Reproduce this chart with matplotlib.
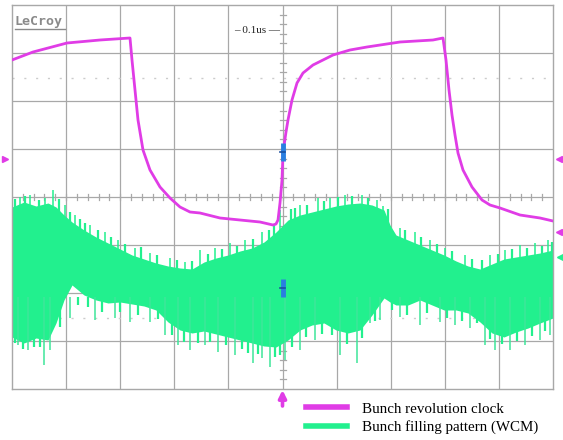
import numpy as np
import matplotlib
matplotlib.use("Agg")
import matplotlib.pyplot as plt
from matplotlib.lines import Line2D

# screen units: x = sample (0..541, 10 div), y = ADC counts (-192..192, 8 div)
clock_x = [0, 21, 55, 88, 118, 120, 123, 126, 131, 138, 148, 158, 168, 178, 188, 208, 228, 248,
           261, 264, 266, 268, 270, 271, 274, 276, 280, 285, 291, 301, 321, 338, 355, 388, 421,
           431, 434, 437, 440, 443, 446, 451, 460, 470, 478, 488, 508, 528, 541]
clock_y = [137, 145, 154, 157, 159, 137, 107, 77, 47, 27, 10, -1, -10, -15, -16, -21, -23, -25,
           -28, -27, -23, -6, 17, 44, 65, 77, 97, 114, 124, 132, 142, 147, 150, 155, 157,
           159, 137, 107, 82, 62, 44, 27, 10, -3, -8, -11, -18, -21, -24]

# bunch filling pattern (WCM): dense band, top/bottom edge
wcm_x = [0, 12, 24, 36, 44, 52, 60, 72, 84, 96, 108, 120, 132, 144, 156, 168, 180, 192, 204,
         216, 228, 240, 252, 264, 276, 288, 300, 312, 324, 336, 348, 360, 372, 378, 384, 396,
         408, 420, 432, 444, 456, 468, 480, 492, 504, 516, 528, 541]
wcm_top = [-10, -5, -9, -6, -10, -18, -25, -33, -40, -46, -52, -58, -62, -66, -69, -71, -72,
           -65, -61, -58, -54, -51, -45, -35, -23, -18, -15, -12, -9, -7, -6, -8, -13, -28,
           -38, -43, -48, -53, -58, -64, -69, -72, -67, -62, -60, -58, -56, -53]
wcm_bot = [-140, -146, -141, -143, -126, -103, -88, -98, -103, -106, -105, -107, -109, -113,
           -125, -133, -136, -134, -137, -140, -143, -146, -149, -150, -143, -133, -128, -126,
           -133, -136, -133, -118, -101, -105, -108, -108, -103, -108, -113, -113, -116, -125,
           -136, -140, -135, -131, -126, -121]

# long spikes sticking out of the band
spike_up_x = [8, 18, 33, 41, 53, 63, 78, 93, 106, 123, 138, 158, 173, 188, 203, 218, 233, 250,
              268, 288, 306, 318, 333, 350, 365, 371, 388, 403, 418, 433, 453, 478, 493, 508,
              523, 536]
spike_up_y = [0, 2, -1, 7, -8, -18, -28, -35, -43, -51, -56, -61, -65, -53, -51, -46, -43, -35,
              -13, -8, -1, -1, 2, 2, -3, -9, -31, -35, -43, -51, -58, -58, -53, -48, -46, -43]
spike_dn_x = [6, 16, 32, 38, 58, 83, 103, 118, 138, 153, 166, 178, 193, 206, 223, 241, 250, 258,
              273, 288, 303, 328, 345, 358, 368, 388, 408, 428, 443, 458, 473, 483, 498, 513,
              528, 538]
spike_dn_y = [-148, -153, -168, -153, -121, -123, -121, -125, -125, -138, -148, -153, -148, -155,
              -158, -166, -161, -170, -163, -153, -143, -158, -166, -126, -123, -120, -128, -125,
              -128, -131, -148, -153, -153, -148, -143, -138]

# shorter spikes along the band edges
short_up_x = [3, 13, 27, 47, 58, 68, 73, 86, 99, 113, 129, 145, 165, 180, 196, 210, 225, 241,
              257, 262, 279, 283, 295, 312, 326, 340, 356, 376, 393, 409, 425, 440, 460, 470,
              486, 500, 515, 530, 540]
short_up_y = [-2, 1, -3, -2, -15, -22, -26, -33, -40, -47, -50, -58, -63, -64, -57, -52, -49,
              -42, -33, -27, -12, -11, -8, -4, 0, 1, -1, -12, -33, -40, -47, -54, -62, -63,
              -57, -52, -51, -49, -45]
short_dn_x = [3, 11, 22, 28, 48, 66, 76, 90, 108, 126, 146, 160, 172, 186, 198, 214, 230, 236,
              246, 263, 268, 280, 294, 310, 320, 335, 350, 363, 380, 395, 415, 435, 450, 465,
              478, 490, 505, 520, 533]
short_dn_y = [-146, -152, -150, -150, -130, -108, -110, -115, -115, -118, -122, -138, -145,
              -146, -145, -148, -152, -156, -157, -160, -158, -150, -140, -137, -138, -147,
              -141, -124, -113, -118, -116, -121, -124, -126, -142, -147, -144, -139, -134]

labels = ["Bunch revolution clock", "Bunch filling pattern (WCM)"]

MAG = "#e03ce6"
GRN = "#22f08e"
GRID = "#a8a8a8"

fig = plt.figure(figsize=(5.63, 4.40), dpi=100)
ax = fig.add_axes([12/563, 51/440, 541/563, 384/440])
ax.set_xlim(0, 541)
ax.set_ylim(-192, 192)
ax.set_xticks([]); ax.set_yticks([])
for s in ax.spines.values():
    s.set_color(GRID); s.set_linewidth(1.0)

xdiv = 541/10
ydiv = 48
for i in range(1, 10):
    ax.axvline(i*xdiv, color=GRID, lw=0.9, zorder=1)
for j in range(-3, 4):
    ax.axhline(j*ydiv, color=GRID, lw=0.9, zorder=1)
# center ticks
cx = 5*xdiv
for k in range(1, 50):
    ax.plot([k*xdiv/5]*2, [-3, 3], color=GRID, lw=0.9, zorder=1)
for k in range(-19, 20):
    ax.plot([cx-3, cx+3], [k*ydiv/5]*2, color=GRID, lw=0.9, zorder=1)
# dotted cursor levels
for yy in (119, -121):
    ax.axhline(yy, color="#cccccc", lw=1.0, ls=(0, (1.5, 7)), zorder=1)

# traces
ax.fill_between(wcm_x, wcm_bot, wcm_top, color=GRN, lw=0, zorder=2)
ax.vlines(spike_up_x, -80, spike_up_y, color=GRN, lw=1.1, zorder=2)
ax.vlines(spike_dn_x, -100, spike_dn_y, color="#3ee69a", lw=1.1, zorder=2)
ax.vlines(short_up_x, -80, short_up_y, color=GRN, lw=1.6, zorder=2)
ax.vlines(short_dn_x, -100, short_dn_y, color=GRN, lw=1.6, zorder=2)
ax.plot(clock_x, clock_y, color=MAG, lw=2.0, zorder=3, solid_joinstyle="round")

# blue trigger/offset markers
for yc in (45, -91):
    ax.plot([cx, cx], [yc-9, yc+9], color="#2a7fe0", lw=3.5, zorder=4, solid_capstyle="butt")
    ax.plot([cx-2.5, cx+2.5], [yc, yc], color="#1a4fa0", lw=1.2, zorder=4)

# channel markers at edges
ax.plot([-7], [38], marker=">", color=MAG, ms=4, clip_on=False)
ax.plot([547], [38], marker="<", color=MAG, ms=5, clip_on=False)
ax.plot([547], [-35], marker="<", color=MAG, ms=5, clip_on=False)
ax.plot([548], [-60], marker="<", color=GRN, ms=5, clip_on=False)
ax.annotate("", xy=(cx, -193), xytext=(cx, -209), annotation_clip=False,
            arrowprops=dict(arrowstyle="-|>", color=MAG, lw=2.6, mutation_scale=11,
                            shrinkA=0, shrinkB=0))

# labels on screen
ax.text(cx-2, 167, "\u2013 0.1us \u2014", ha="right", va="center", fontsize=8,
        family="Liberation Serif", color="#222222")
ax.text(3, 176, "LeCroy", ha="left", va="center", fontsize=9.5, fontweight="bold",
        family="DejaVu Sans Mono", color="#8a8a8a")
ax.plot([3, 53], [168, 168], color="#8a8a8a", lw=1.0)

handles = [Line2D([], [], color=MAG, lw=4), Line2D([], [], color=GRN, lw=4)]
fig.legend(handles, labels, loc="upper left", bbox_to_anchor=(306/563, 1-402/440),
           frameon=False, prop={"family": "Liberation Serif", "size": 10.8},
           handlelength=2.75, handletextpad=1.0, labelspacing=0.33,
           borderpad=0, borderaxespad=0)

fig.savefig("out.png", dpi=100)
